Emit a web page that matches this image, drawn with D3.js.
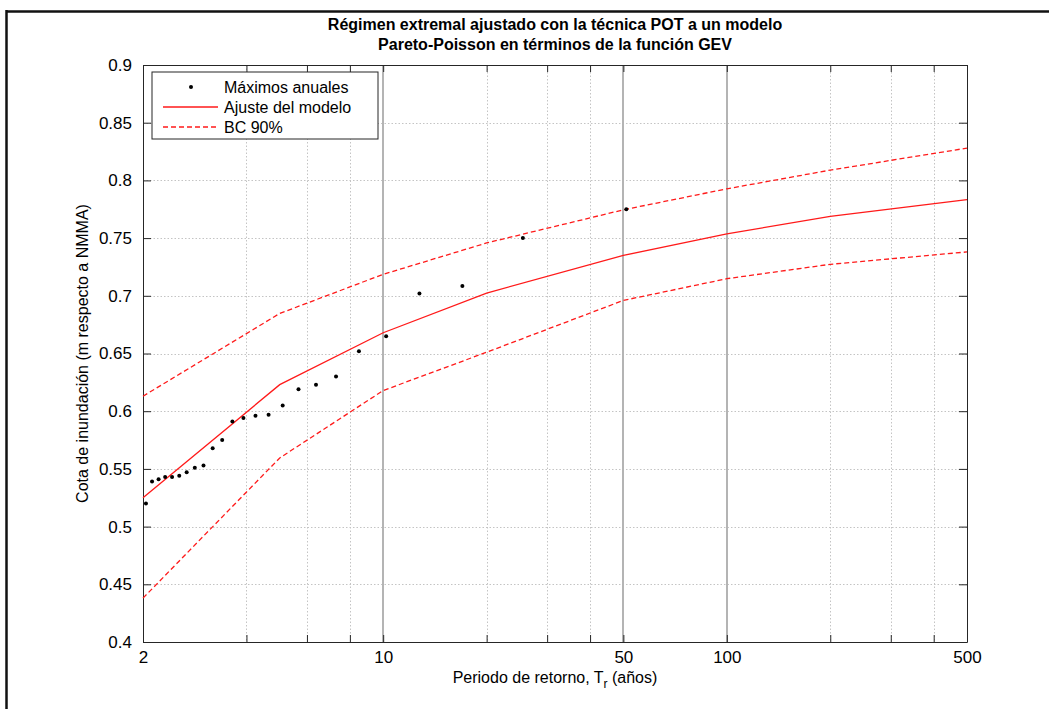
<!DOCTYPE html>
<html>
<head>
<meta charset="utf-8">
<script src="https://cdn.jsdelivr.net/npm/d3@7"></script>
<style>
    body { margin: 0; background: #fff; }
    #chart-area { width: 1049px; height: 709px; }
    text { font-family: "Liberation Sans", Arial, Helvetica, sans-serif; fill: #000; }
    .axis path, .axis line { stroke: #262626; }
    .grid-minor { stroke: #c4c4c4; stroke-dasharray: 1.5 2; stroke-width: 1; }
</style>
</head>
<body>
<div id="chart-area"></div>
<script>

// annual maxima (plotting positions)
let returnPeriods = [51, 25.5, 17, 12.75, 10.2, 8.5, 7.29, 6.375, 5.67, 5.1, 4.64, 4.25, 3.92, 3.64, 3.4, 3.19, 3.0, 2.83, 2.68, 2.55, 2.43, 2.32, 2.22, 2.125, 2.04];
let annualMaxima = [0.775, 0.750, 0.7085, 0.702, 0.665, 0.652, 0.630, 0.623, 0.619, 0.605, 0.597, 0.596, 0.594, 0.591, 0.575, 0.568, 0.553, 0.551, 0.547, 0.544, 0.543, 0.543, 0.541, 0.539, 0.520];

// fitted model + 90% confidence band
let fitPeriods = [2, 5, 10, 20, 50, 100, 200, 500];
let fitValues = [0.525, 0.623, 0.668, 0.7024, 0.735, 0.7536, 0.7689, 0.7834];
let upperBand = [0.613, 0.6847, 0.7186, 0.7458, 0.7745, 0.7927, 0.8089, 0.828];
let lowerBand = [0.438, 0.5595, 0.6179, 0.6511, 0.696, 0.7148, 0.7273, 0.738];

// ticks
let xTicks = [2, 4, 6, 8, 10, 20, 30, 40, 50, 100, 200, 300, 400, 500];
let xTickLabels = [2, 10, 50, 100, 500];
let xHighlight = [10, 50, 100];
let yTicks = [0.4, 0.45, 0.5, 0.55, 0.6, 0.65, 0.7, 0.75, 0.8, 0.85, 0.9];

let titleLines = ["Régimen extremal ajustado con la técnica POT a un modelo",
    "Pareto-Poisson en términos de la función GEV"];
let legendLabels = ["Máximos anuales", "Ajuste del modelo", "BC 90%"];


class ReturnPeriodVis {

    constructor(parentElement) {
        this.parentElement = parentElement;
        this.initVis();
    }

    initVis() {
        let vis = this;

        vis.margin = {top: 65, right: 82, bottom: 67, left: 143};
        vis.width = 1049 - vis.margin.left - vis.margin.right;
        vis.height = 709 - vis.margin.top - vis.margin.bottom;

        vis.root = d3.select("#" + vis.parentElement).append("svg")
            .attr("width", 1049)
            .attr("height", 709);

        // figure frame (top + left edge visible in the original)
        vis.root.append("line")
            .attr("x1", 6).attr("x2", 1049).attr("y1", 11.5).attr("y2", 11.5)
            .attr("stroke", "#111").attr("stroke-width", 2.5);
        vis.root.append("line")
            .attr("x1", 6.5).attr("x2", 6.5).attr("y1", 10).attr("y2", 709)
            .attr("stroke", "#111").attr("stroke-width", 2.5);

        vis.svg = vis.root.append("g")
            .attr("transform", `translate(${vis.margin.left}, ${vis.margin.top})`);

        vis.x = d3.scaleLog()
            .domain([2, 500])
            .range([0, vis.width]);

        vis.y = d3.scaleLinear()
            .domain([0.4, 0.9])
            .range([vis.height, 0]);

        this.updateVis();
    }

    updateVis() {
        let vis = this;

        // grid
        vis.svg.append("g").selectAll(".gx")
            .data(xTicks.filter(d => d > 2 && d < 500))
            .enter().append("line")
            .attr("class", "grid-minor")
            .attr("x1", d => Math.round(vis.x(d)) + 0.5)
            .attr("x2", d => Math.round(vis.x(d)) + 0.5)
            .attr("y1", 0).attr("y2", vis.height);

        vis.svg.append("g").selectAll(".gy")
            .data(yTicks.slice(1, -1))
            .enter().append("line")
            .attr("class", "grid-minor")
            .attr("y1", d => Math.round(vis.y(d)) + 0.5)
            .attr("y2", d => Math.round(vis.y(d)) + 0.5)
            .attr("x1", 0).attr("x2", vis.width);

        // solid reference lines at 10, 50 and 100 years
        vis.svg.append("g").selectAll(".ref")
            .data(xHighlight)
            .enter().append("line")
            .attr("x1", d => Math.round(vis.x(d)))
            .attr("x2", d => Math.round(vis.x(d)))
            .attr("y1", 0).attr("y2", vis.height)
            .attr("stroke", "#b4b4b4")
            .attr("stroke-width", 2);

        // axes (inward ticks, boxed)
        let fmtY = d3.format("~g");
        vis.xAxis = d3.axisBottom(vis.x)
            .tickValues(xTicks)
            .tickSizeInner(-7).tickSizeOuter(0)
            .tickPadding(9)
            .tickFormat(d => xTickLabels.includes(d) ? d : "");
        vis.yAxis = d3.axisLeft(vis.y)
            .tickValues(yTicks)
            .tickSizeInner(-8).tickSizeOuter(0)
            .tickPadding(11)
            .tickFormat(fmtY);

        vis.svg.append("g")
            .attr("class", "x-axis axis")
            .attr("transform", "translate(0," + vis.height + ")")
            .call(vis.xAxis);
        vis.svg.append("g")
            .attr("class", "y-axis axis")
            .call(vis.yAxis);
        vis.svg.append("g")
            .attr("class", "axis")
            .call(d3.axisTop(vis.x).tickValues(xTicks).tickSizeInner(-7).tickSizeOuter(0).tickFormat(""));
        vis.svg.append("g")
            .attr("class", "axis")
            .attr("transform", "translate(" + vis.width + ",0)")
            .call(d3.axisRight(vis.y).tickValues(yTicks).tickSizeInner(-8).tickSizeOuter(0).tickFormat(""));

        vis.svg.selectAll(".axis text")
            .style("font-size", "17px")
            .style("font-family", "'Liberation Sans', Arial, sans-serif")
            .attr("fill", "#000");

        // curves
        let line = d3.line()
            .x(d => vis.x(d[0]))
            .y(d => vis.y(d[1]));

        let curves = [
            {values: upperBand, dash: "5,3"},
            {values: lowerBand, dash: "5,3"},
            {values: fitValues, dash: null}
        ];

        vis.svg.selectAll(".curve")
            .data(curves)
            .enter().append("path")
            .attr("class", "curve")
            .attr("d", c => line(fitPeriods.map((t, i) => [t, c.values[i]])))
            .attr("fill", "none")
            .attr("stroke", "#ff1a1a")
            .attr("stroke-width", 1.3)
            .attr("stroke-dasharray", c => c.dash);

        // annual maxima
        vis.svg.selectAll(".dot")
            .data(returnPeriods.map((t, i) => ({t: t, v: annualMaxima[i]})))
            .enter().append("circle")
            .attr("class", "dot")
            .attr("cx", d => vis.x(d.t))
            .attr("cy", d => vis.y(d.v))
            .attr("r", 2)
            .attr("fill", "#000");

        // title
        vis.root.selectAll(".title")
            .data(titleLines)
            .enter().append("text")
            .attr("class", "title")
            .attr("x", vis.margin.left + vis.width / 2)
            .attr("y", (d, i) => 30 + i * 20)
            .attr("text-anchor", "middle")
            .style("font-size", "16px")
            .style("font-weight", "bold")
            .text(d => d);

        // axis labels
        let xl = vis.root.append("text")
            .attr("x", vis.margin.left + vis.width / 2)
            .attr("y", 683)
            .attr("text-anchor", "middle")
            .style("font-size", "16px");
        xl.append("tspan").text("Periodo de retorno, T");
        xl.append("tspan").attr("dy", 5).style("font-size", "12px").text("r");
        xl.append("tspan").attr("dy", -5).text(" (años)");

        vis.root.append("text")
            .attr("transform", `translate(88, ${vis.margin.top + vis.height / 2}) rotate(-90)`)
            .attr("text-anchor", "middle")
            .style("font-size", "16px")
            .text("Cota de inundación (m respecto a NMMA)");

        // legend
        let lg = vis.root.append("g")
            .attr("transform", "translate(152, 72)");
        lg.append("rect")
            .attr("width", 226).attr("height", 67)
            .attr("fill", "#fff")
            .attr("stroke", "#262626");

        let items = lg.selectAll(".lg-item")
            .data(legendLabels)
            .enter().append("g")
            .attr("class", "lg-item")
            .attr("transform", (d, i) => `translate(0, ${15 + i * 20})`);

        items.append("text")
            .attr("x", 72).attr("y", 6)
            .style("font-size", "16px")
            .text(d => d);

        items.filter((d, i) => i === 0).append("circle")
            .attr("cx", 39).attr("cy", 0).attr("r", 2).attr("fill", "#000");
        items.filter((d, i) => i > 0).append("line")
            .attr("x1", 11).attr("x2", 66).attr("y1", 0).attr("y2", 0)
            .attr("stroke", "#ff1a1a").attr("stroke-width", 1.3)
            .attr("stroke-dasharray", (d, i) => i === 1 ? "5,3" : null);
    }
}

new ReturnPeriodVis("chart-area");

</script>
</body>
</html>
